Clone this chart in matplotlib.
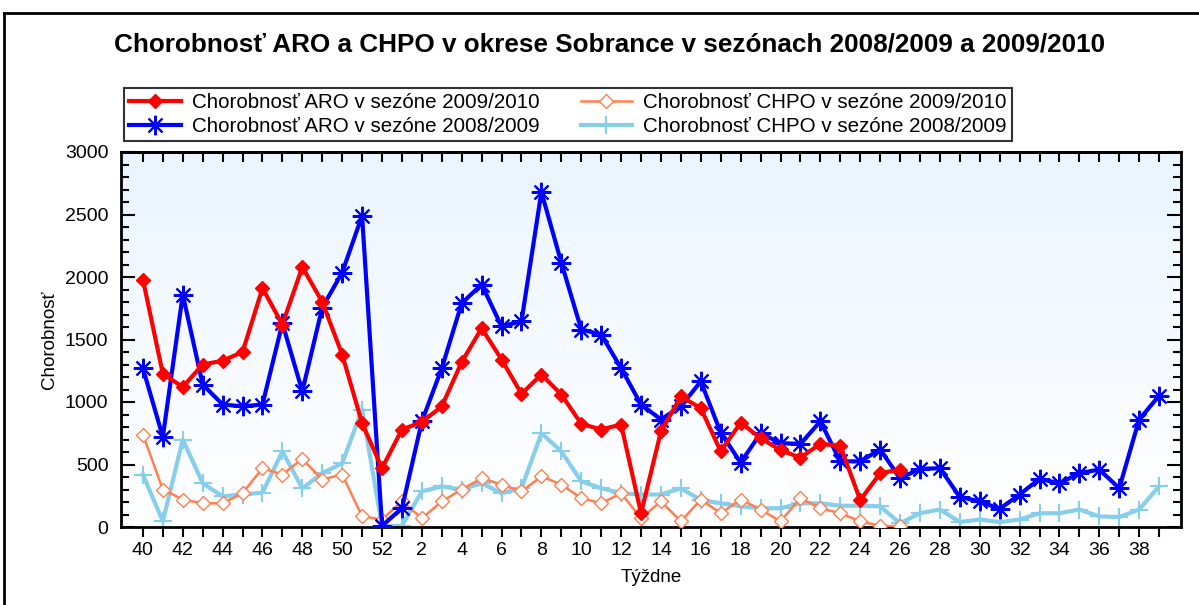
import matplotlib
matplotlib.use("Agg")
import matplotlib.pyplot as plt
import numpy as np
from matplotlib.lines import Line2D

plt.rcParams['font.family'] = ['Liberation Sans', 'DejaVu Sans']

weeks = list(range(40, 53)) + list(range(1, 40))

# ARO 2009/2010 (weeks 40..26)
aro_0910 = [1980, 1225, 1120, 1300, 1330, 1400, 1910, 1620, 2080, 1800, 1380, 830, 470,
            780, 840, 965, 1320, 1590, 1340, 1065, 1220, 1060, 825, 780, 820, 110,
            765, 1045, 950, 605, 835, 710, 615, 555, 665, 650, 215, 430, 460]
# ARO 2008/2009 (weeks 40..39)
aro_0809 = [1270, 720, 1860, 1140, 980, 965, 980, 1630, 1085, 1755, 2035, 2490, 10,
            150, 845, 1270, 1790, 1940, 1605, 1645, 2680, 2115, 1580, 1540, 1270, 980,
            860, 965, 1165, 755, 515, 750, 670, 665, 845, 525, 525, 620, 390,
            465, 470, 240, 205, 145, 260, 385, 350, 430, 460, 310, 860, 1050]
# CHPO 2009/2010
chpo_0910 = [740, 300, 220, 190, 190, 270, 470, 420, 545, 380, 420, 85, 60,
             205, 70, 205, 300, 390, 340, 285, 405, 340, 230, 190, 270, 70,
             205, 45, 220, 110, 220, 140, 45, 230, 150, 110, 45, 10, 5]
# CHPO 2008/2009
chpo_0809 = [420, 45, 700, 350, 245, 260, 275, 605, 310, 430, 510, 940, 5,
             10, 285, 325, 300, 350, 270, 310, 750, 605, 365, 310, 270, 260,
             260, 310, 215, 190, 165, 150, 150, 190, 190, 170, 170, 165, 30,
             110, 140, 40, 60, 40, 60, 110, 110, 140, 85, 80, 140, 325]

labels = ['Chorobnosť ARO v sezóne 2009/2010', 'Chorobnosť ARO v sezóne 2008/2009',
          'Chorobnosť CHPO v sezóne 2009/2010', 'Chorobnosť CHPO v sezóne 2008/2009']

W, H = 1199, 605
fig = plt.figure(figsize=(W / 100, H / 100), dpi=100)
ax = fig.add_axes([121 / W, 1 - 527 / H, (1181 - 121) / W, (527 - 152) / H])

# gradient background
grad = np.linspace(0, 1, 256).reshape(-1, 1)
top = np.array([0.92, 0.96, 1.0])
bot = np.array([1.0, 1.0, 1.0])
img = bot + (top - bot) * grad[:, :, None] * np.ones((1, 1, 3))
ax.imshow(img, extent=[0, 1, 0, 1], transform=ax.transAxes, origin='lower',
          aspect='auto', zorder=0)

x_long = np.arange(len(aro_0809))
x_short = np.arange(len(aro_0910))

l4, = ax.plot(x_long, chpo_0809, color='#87ceeb', lw=3, marker='+', ms=13, mew=1.5, zorder=2)
l3, = ax.plot(x_short, chpo_0910, color='#ff7f50', lw=1.8, marker='D', ms=7.5, mfc='white',
              mec='#ff7f50', mew=1, zorder=3)
l2, = ax.plot(x_long, aro_0809, color='#0000ff', lw=3, marker=(8, 2, 0), ms=14, mew=1.5, zorder=4)
l1, = ax.plot(x_short, aro_0910, color='#ff0000', lw=3, marker='D', ms=7.5, zorder=5)

ax.set_xlim(-1.1, 52.1)
ax.set_ylim(0, 3000)
ax.set_yticks(range(0, 3001, 500))
ax.set_yticks(range(0, 3001, 100), minor=True)
ax.set_xticks(x_long)
ax.set_xticklabels([str(w) if i % 2 == 0 else '' for i, w in enumerate(weeks)])

ax.tick_params(axis='y', which='major', direction='in', length=10, width=1.5,
               right=True, labelsize=14, pad=9)
ax.tick_params(axis='y', which='minor', direction='in', length=6, width=1.5, right=True)
ax.tick_params(axis='x', direction='out', length=7, width=1.5, labelsize=14, pad=4)
sec = ax.secondary_xaxis('top')
sec.set_xticks(x_long)
sec.tick_params(direction='in', length=7, width=1.5, labeltop=False)
sec.spines['top'].set_linewidth(2)

for s in ax.spines.values():
    s.set_linewidth(2)

ax.set_ylabel('Chorobnosť', fontsize=13.5, labelpad=5)
ax.set_xlabel('Týždne', fontsize=13.5, labelpad=7)

fig.text(610 / W, 1 - 45 / H, 'Chorobnosť ARO a CHPO v okrese Sobrance v sezónach 2008/2009 a 2009/2010',
         ha='center', va='center', fontsize=18.8, fontweight='bold')

leg = fig.legend([l1, l2, l3, l4], labels, ncol=2, loc='upper left',
                 bbox_to_anchor=(124 / W, 1 - 88 / H), fontsize=14.8, frameon=True,
                 fancybox=False, edgecolor='black', handlelength=2.5, handletextpad=0.55,
                 columnspacing=2.0, labelspacing=0.25, borderpad=0.25, borderaxespad=0)
leg.get_frame().set_linewidth(1.5)

# outer frame
fig.add_artist(Line2D([4 / W, 1], [1 - 13 / H, 1 - 13 / H], color='black', lw=2, transform=fig.transFigure))
fig.add_artist(Line2D([4 / W, 4 / W], [0, 1 - 13 / H], color='black', lw=2, transform=fig.transFigure))

fig.savefig('out.png', dpi=100)
